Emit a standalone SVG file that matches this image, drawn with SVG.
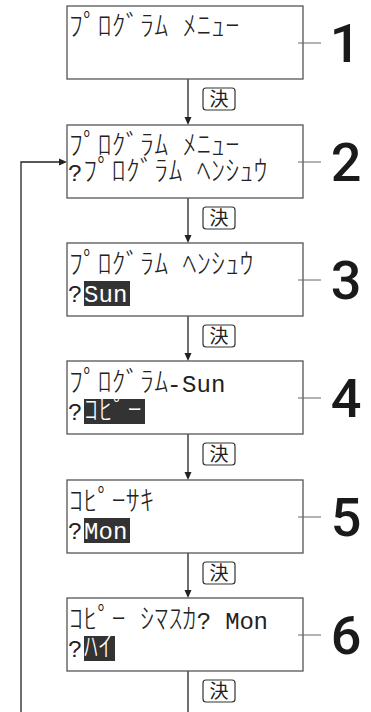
<svg xmlns="http://www.w3.org/2000/svg" width="371" height="712" viewBox="0 0 371 712">
<style>
.box{fill:#fff;stroke:#555;stroke-width:1.3}
.lcd{font-family:"Noto Sans CJK JP",sans-serif;font-weight:300;font-size:28px;fill:#222}
.lat{font-family:"Liberation Mono","DejaVu Sans Mono",monospace;font-weight:400;font-size:24px}
.hl{fill:#333}
.inv{fill:#fff}
.num{font-family:Roboto,"Liberation Sans",Arial,sans-serif;font-weight:500;font-size:54px;fill:#1a1a1a;text-anchor:middle}
.lead{stroke:#666;stroke-width:1}
.key{fill:#fff;stroke:#333;stroke-width:1.2}
.keyt{font-family:"Noto Sans CJK JP",sans-serif;font-size:19px;fill:#222;text-anchor:middle}
.conn{stroke:#222;stroke-width:1.3;fill:none}
.head{fill:#222}
</style>
<g id="connectors">
<line class="conn" x1="188" y1="79" x2="188" y2="118"/>
<polygon class="head" points="184.5,117 191.5,117 188,125"/>
<line class="conn" x1="188" y1="198" x2="188" y2="236"/>
<polygon class="head" points="184.5,235 191.5,235 188,243"/>
<line class="conn" x1="188" y1="316" x2="188" y2="354"/>
<polygon class="head" points="184.5,353 191.5,353 188,361"/>
<line class="conn" x1="188" y1="434" x2="188" y2="473"/>
<polygon class="head" points="184.5,472 191.5,472 188,480"/>
<line class="conn" x1="188" y1="553" x2="188" y2="591"/>
<polygon class="head" points="184.5,590 191.5,590 188,598"/>
<line class="conn" x1="188" y1="671" x2="188" y2="712"/>
<path class="conn" d="M21,712 V162 H60"/>
<polygon class="head" points="59,158.5 59,165.5 67,162"/>
<rect class="key" x="203" y="88" width="32" height="22" rx="3"/>
<text class="keyt" x="219" y="106">決</text>
<rect class="key" x="203" y="207" width="32" height="22" rx="3"/>
<text class="keyt" x="219" y="225">決</text>
<rect class="key" x="203" y="325" width="32" height="22" rx="3"/>
<text class="keyt" x="219" y="343">決</text>
<rect class="key" x="203" y="443" width="32" height="22" rx="3"/>
<text class="keyt" x="219" y="461">決</text>
<rect class="key" x="203" y="562" width="32" height="22" rx="3"/>
<text class="keyt" x="219" y="580">決</text>
<rect class="key" x="203" y="680" width="32" height="22" rx="3"/>
<text class="keyt" x="219" y="698">決</text>
</g>
<g id="node1">
<rect class="box" x="67" y="6" width="236" height="73"/>
<text class="lcd" x="69 83.2 97.4 111.6 125.8 140 154.2 168.4 182.6 196.8 211 225.2" y="36">ﾌﾟﾛｸﾞﾗﾑ ﾒﾆｭｰ</text>
<line class="lead" x1="298" y1="43" x2="321" y2="43"/>
<text class="num" x="345" y="62" font-weight="bold">1</text>
</g>
<g id="node2">
<rect class="box" x="67" y="125" width="236" height="73"/>
<text class="lcd" x="69 83.2 97.4 111.6 125.8 140 154.2 168.4 182.6 196.8 211 225.2" y="155">ﾌﾟﾛｸﾞﾗﾑ ﾒﾆｭｰ</text>
<text class="lcd" y="181"><tspan class="lat" x="68">?</tspan><tspan x="83.2 97.4 111.6 125.8 140 154.2 168.4 182.6 196.8 211 225.2 239.4 253.6">ﾌﾟﾛｸﾞﾗﾑ ﾍﾝｼｭｳ</tspan></text>
<line class="lead" x1="298" y1="162" x2="321" y2="162"/>
<text class="num" x="346" y="181">2</text>
</g>
<g id="node3">
<rect class="box" x="67" y="243" width="236" height="73"/>
<text class="lcd" x="69 83.2 97.4 111.6 125.8 140 154.2 168.4 182.6 196.8 211 225.2 239.4" y="274">ﾌﾟﾛｸﾞﾗﾑ ﾍﾝｼｭｳ</text>
<rect class="hl" x="84" y="281" width="46" height="25"/>
<text class="lcd" y="302"><tspan class="lat" x="68">?</tspan><tspan class="lat inv" x="84 98.5 113">Sun</tspan></text>
<line class="lead" x1="298" y1="280" x2="321" y2="280"/>
<text class="num" x="346" y="299">3</text>
</g>
<g id="node4">
<rect class="box" x="67" y="361" width="236" height="73"/>
<text class="lcd" y="392"><tspan x="69 83.2 97.4 111.6 125.8 140 154.2">ﾌﾟﾛｸﾞﾗﾑ</tspan><tspan class="lat" x="167 182 196.5 211">-Sun</tspan></text>
<rect class="hl" x="84" y="399" width="61" height="25"/>
<text class="lcd" y="420"><tspan class="lat" x="68">?</tspan><tspan class="inv" x="84 98.5 113 127.5">ｺﾋﾟｰ</tspan></text>
<line class="lead" x1="298" y1="398" x2="321" y2="398"/>
<text class="num" x="346" y="417">4</text>
</g>
<g id="node5">
<rect class="box" x="67" y="480" width="236" height="73"/>
<text class="lcd" x="69 83.2 97.4 111.6 125.8 140" y="511">ｺﾋﾟｰｻｷ</text>
<rect class="hl" x="84" y="518" width="46" height="25"/>
<text class="lcd" y="539"><tspan class="lat" x="68">?</tspan><tspan class="lat inv" x="84 98.5 113">Mon</tspan></text>
<line class="lead" x1="298" y1="517" x2="321" y2="517"/>
<text class="num" x="346" y="536">5</text>
</g>
<g id="node6">
<rect class="box" x="67" y="598" width="236" height="73"/>
<text class="lcd" y="629"><tspan x="69 83.2 97.4 111.6 125.8 140 154.2 168.4 182.6">ｺﾋﾟｰ ｼﾏｽｶ</tspan><tspan class="lat" x="196.8 211 225.2 239.4 253.6">? Mon</tspan></text>
<rect class="hl" x="84" y="636" width="31" height="25"/>
<text class="lcd" y="657"><tspan class="lat" x="68">?</tspan><tspan class="inv" x="84 98.5">ﾊｲ</tspan></text>
<line class="lead" x1="298" y1="635" x2="321" y2="635"/>
<text class="num" x="346" y="654">6</text>
</g>
</svg>
